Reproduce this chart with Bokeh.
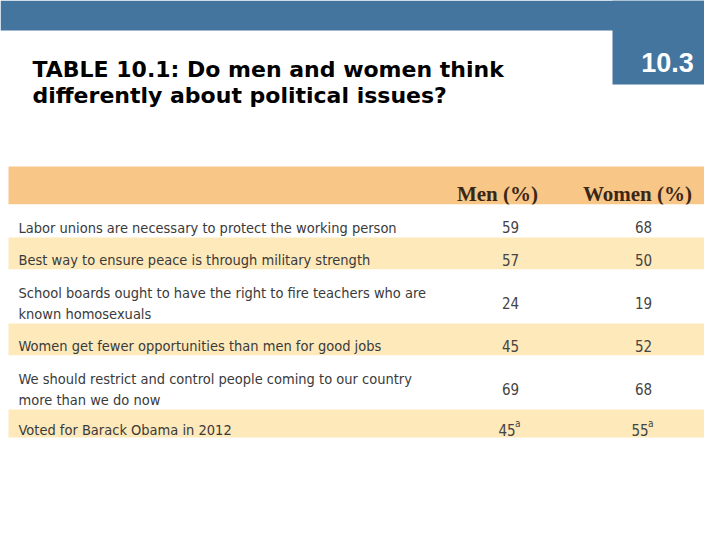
from bokeh.plotting import figure
from bokeh.models import Range1d
from bokeh.core.properties import value
from bokeh.embed import file_html
from bokeh.resources import INLINE

# ---------------- data ----------------
title_lines = ["TABLE 10.1: Do men and women think", "differently about political issues?"]
section_label = "10.3"
columns = ["Men (%)", "Women (%)"]
statements = [
    "Labor unions are necessary to protect the working person",
    "Best way to ensure peace is through military strength",
    "School boards ought to have the right to fire teachers who are\nknown homosexuals",
    "Women get fewer opportunities than men for good jobs",
    "We should restrict and control people coming to our country\nmore than we do now",
    "Voted for Barack Obama in 2012",
]
men = [59, 57, 24, 45, 69, 45]
women = [68, 50, 19, 52, 68, 55]
notes = ["", "", "", "", "", "a"]

# ---------------- layout (pixel coordinates of the figure) ----------------
BLUE = "#44759e"
HEADER = "#f8c686"
STRIPE = "#fde9ba"
LABEL_FONT = value("DejaVu Sans Condensed")
row_edges = [204, 237, 269, 323, 355, 409, 437]
header_top, header_bottom = 166, 204
table_left, table_right = 8, 709
col_x = [510, 643]
header_x = [497, 637]
label_x = 18

p = figure(width=704, height=524, x_range=Range1d(0, 704), y_range=Range1d(524, 0),
           output_backend="svg", toolbar_location=None, min_border=0)
p.axis.visible = False
p.grid.visible = False
p.outline_line_color = None
p.background_fill_color = "white"
p.border_fill_color = "white"

# top band and section box
p.quad(left=[0, 612], right=[720, 720], top=[0, 0], bottom=[30, 84],
       fill_color=BLUE, line_color=None)
p.text(x=[667], y=[62], text=[section_label], text_color="white",
       text_font=value("Liberation Sans"), text_font_style="bold",
       text_font_size="27px", text_align="center", text_baseline="alphabetic")

# title
p.text(x=[32, 32], y=[69, 95], text=title_lines, text_color="black",
       text_font=value("DejaVu Sans"), text_font_style="bold",
       text_font_size="22px", text_align="left", text_baseline="alphabetic")

# header row
p.quad(left=[table_left], right=[table_right], top=[header_top], bottom=[header_bottom],
       fill_color=HEADER, line_color=None)
p.text(x=header_x, y=[193, 193], text=columns, text_color="#3a2716",
       text_font=value("Liberation Serif"), text_font_style="bold",
       text_font_size="21px", text_align="center", text_baseline="alphabetic")

# row stripes
tops = row_edges[:-1]
bottoms = row_edges[1:]
fills = ["white" if i % 2 == 0 else STRIPE for i in range(len(statements))]
p.quad(left=[table_left] * len(tops), right=[table_right] * len(tops),
       top=tops, bottom=bottoms, fill_color=fills, line_color=None)

# labels
lx, ly, lt = [], [], []
for i, s in enumerate(statements):
    lines = s.split("\n")
    c = (tops[i] + bottoms[i]) / 2
    n = len(lines)
    for j, ln in enumerate(lines):
        lx.append(label_x)
        ly.append(c + 6.5 + (j - (n - 1) / 2) * 21)
        lt.append(ln)
p.text(x=lx, y=ly, text=lt, text_color="#3a3a3a",
       text_font=LABEL_FONT, text_font_size="14.5px",
       text_align="left", text_baseline="alphabetic")

# values
vx, vy, vt, nx, ny, nt = [], [], [], [], [], []
for i in range(len(statements)):
    c = (tops[i] + bottoms[i]) / 2
    for k, v in enumerate([men[i], women[i]]):
        shift = 3.5 if notes[i] else 0
        vx.append(col_x[k] - shift)
        vy.append(c + 6)
        vt.append(str(v))
        if notes[i]:
            nx.append(col_x[k] - shift + 8)
            ny.append(c)
            nt.append(notes[i])
p.text(x=vx, y=vy, text=vt, text_color="#444444",
       text_font=LABEL_FONT, text_font_size="15px",
       text_align="center", text_baseline="alphabetic")
p.text(x=nx, y=ny, text=nt, text_color="#444444",
       text_font=LABEL_FONT, text_font_size="10px",
       text_align="left", text_baseline="alphabetic")

open("out.html", "w").write(file_html(p, INLINE))
